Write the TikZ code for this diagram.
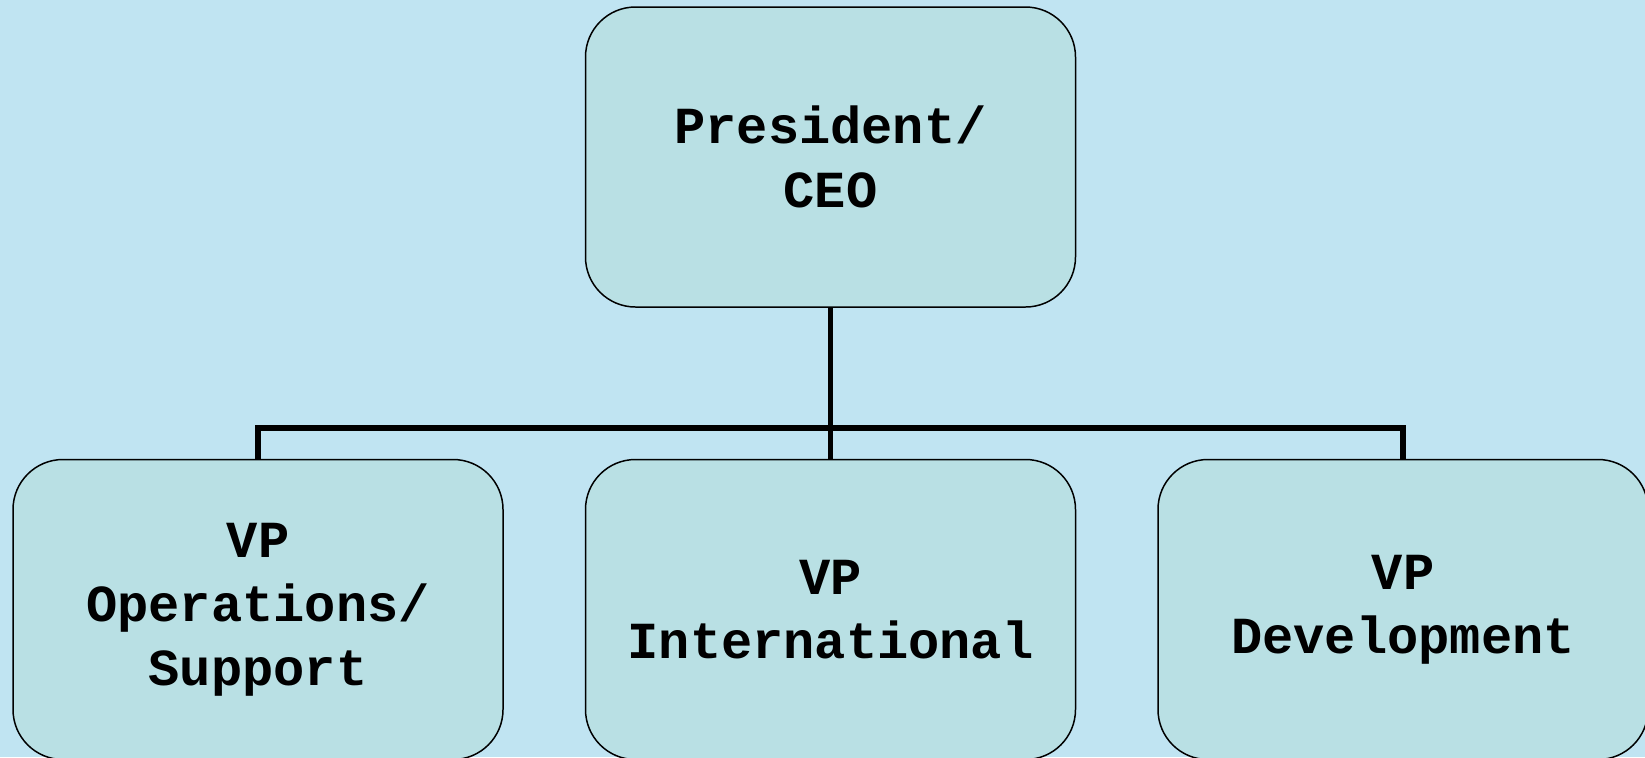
\documentclass[tikz,border=0pt]{standalone}
\usepackage{fontspec}
\newfontfamily\orgfont{Liberation Mono}
\usepackage{tikz}
\usetikzlibrary{shapes,arrows,positioning,calc}
\definecolor{bgblue}{RGB}{192,228,242}
\definecolor{boxblue}{RGB}{185,224,228}
\begin{document}
\begin{tikzpicture}[node distance=3.02cm and 1.62cm,
	post/.style={rectangle, rounded corners=1cm, draw=black, line width=0.85pt, fill=boxblue,
		minimum width=9.8cm, minimum height=6cm, align=center,
		font=\orgfont\bfseries\fontsize{29.6}{36.4}\selectfont},
	link/.style={line width=3.2pt}]
	\fill[bgblue] (0,0) rectangle (32.9,-15.14);
	\useasboundingbox (0,0) rectangle (32.9,-15.14);
	\node (P) [post] at (16.61,-3.14) {President/\\CEO};
	\node (I) [post, below=of P] {VP\\International};
	\node (O) [post, left=of I] {VP\\Operations/\\Support};
	\node (D) [post, right=of I] {VP\\Development};
	\coordinate (bar) at ($(P.south)!0.795!(I.north)$);
	\draw[link] (P.south) -- (I.north);
	\draw[link] (O.north) |- (bar) -| (D.north);
\end{tikzpicture}
\end{document}
